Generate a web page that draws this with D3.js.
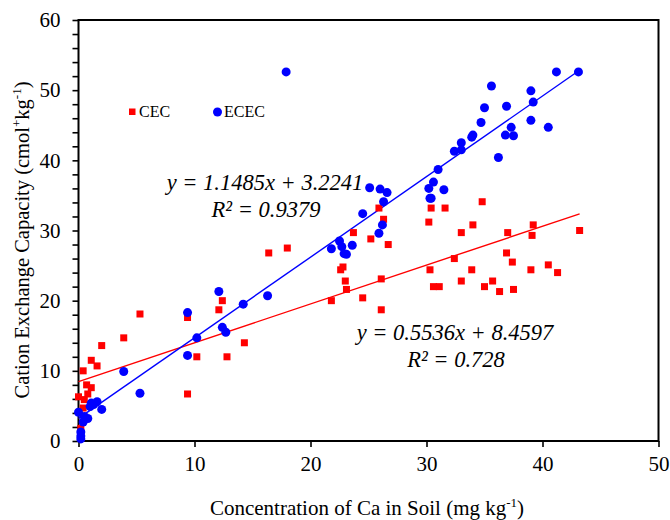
<!DOCTYPE html>
<html>
<head>
<meta charset="utf-8">
<script src="https://cdn.jsdelivr.net/npm/d3@7"></script>
<style>
  body { margin: 0; background: #fff; }
</style>
</head>
<body>
<svg id="chart" width="670" height="520"></svg>
<script>
'use strict';

// Ca concentration (mg kg-1) vs CEC
var cecX = [0.0, 0.2, 0.4, 0.4, 0.5, 0.7, 0.8, 1.1, 1.1, 1.6, 2.0, 3.9, 5.3, 9.4, 9.4, 10.2, 12.1, 12.4, 12.8, 14.3,
            16.4, 18.0, 21.8, 22.6, 22.8, 23.0, 23.1, 23.7, 24.5, 25.2, 25.9, 26.1, 26.1, 26.3, 26.7, 30.2, 30.3, 30.4,
            30.6, 31.1, 31.6, 32.4, 33.0, 33.0, 33.9, 34.0, 34.8, 35.0, 35.7, 36.3, 36.9, 37.0, 37.4, 37.5, 39.0,
            39.1, 39.2, 40.5, 41.3, 43.2];
var cecY = [6.3, 1.8, 4.7, 10.0, 5.9, 8.0, 6.7, 7.6, 11.5, 10.7, 13.6, 14.7, 18.1, 17.6, 6.7, 12.0, 18.7, 20.0, 12.0, 14.0,
            26.8, 27.5, 20.0, 24.4, 24.8, 22.8, 21.6, 29.7, 20.4, 28.8, 33.2, 23.1, 18.7, 31.6, 28.0, 31.2, 24.4, 33.2,
            22.0, 22.0, 33.2, 26.0, 29.7, 22.8, 24.4, 30.8, 34.1, 22.0, 22.8, 21.3, 26.8, 29.7, 25.5, 21.6, 24.4,
            29.3, 30.8, 25.1, 24.0, 30.0];

// Ca concentration vs ECEC
var ececX = [0.0, 0.2, 0.2, 0.2, 0.4, 0.5, 0.8, 1.0, 1.1, 1.3, 1.6, 2.0, 3.9, 5.3, 9.4, 9.4, 10.2, 12.1, 12.4, 12.7,
             14.2, 16.3, 17.9, 21.8, 22.5, 22.7, 22.9, 23.1, 23.6, 24.5, 25.1, 25.9, 26.0, 26.2, 26.3, 26.6, 30.2,
             30.3, 30.4, 30.6, 31.0, 31.5, 32.4, 33.0, 33.0, 33.9, 34.0, 34.7, 35.0, 35.6, 36.2, 36.8, 36.9, 37.3,
             37.5, 39.0, 39.0, 39.2, 40.5, 41.2, 43.1];
var ececY = [4.1, 0.3, 0.7, 1.3, 2.7, 3.5, 3.2, 4.9, 5.4, 5.2, 5.6, 4.5, 9.9, 6.8, 18.3, 12.2, 14.7, 21.3, 16.2, 15.5,
             19.5, 20.7, 52.6, 27.4, 28.5, 27.7, 26.7, 26.6, 27.9, 32.4, 36.1, 29.6, 35.9, 30.8, 34.1, 35.4, 36.0,
             34.6, 34.6, 36.9, 38.7, 35.8, 41.3, 41.5, 42.5, 43.3, 43.6, 45.4, 47.5, 50.6, 40.4, 43.6, 47.7, 44.7,
             43.5, 45.7, 49.9, 48.3, 44.7, 52.6, 52.6];

// linear fits shown on the chart
var cecFit  = {slope: 0.5536, icept: 8.4597, r2: "0.728"};
var ececFit = {slope: 1.1485, icept: 3.2241, r2: "0.9379"};

var xTicks = [0, 10, 20, 30, 40, 50];
var yTicks = [0, 10, 20, 30, 40, 50, 60];

var FONT = "'Liberation Serif', 'Times New Roman', 'DejaVu Serif', serif";

var margin = {top: 20, right: 11.5, bottom: 79, left: 78.5},
    W = 670, H = 520,
    width  = W - margin.left - margin.right,
    height = H - margin.top - margin.bottom;

var svg = d3.select("#chart").attr("font-family", FONT).style("font-family", FONT);
var g = svg.append("g").attr("transform", "translate(" + margin.left + "," + margin.top + ")");

var x = d3.scaleLinear().domain([0, 50]).range([0, width]);
var y = d3.scaleLinear().domain([0, 60]).range([height, 0]);

// axes (minor y ticks every 2, labels only at the tens)
var xAxis = d3.axisBottom(x).tickValues(xTicks).tickSize(6).tickPadding(9).tickFormat(d3.format("d"));
var yAxis = d3.axisLeft(y).tickValues(d3.range(0, 61, 2)).tickSize(6).tickPadding(12)
    .tickFormat(function(d){ return yTicks.indexOf(d) >= 0 ? d : ""; });

var gx = g.append("g").attr("transform", "translate(0," + height + ")").call(xAxis);
var gy = g.append("g").call(yAxis);
[gx, gy].forEach(function(a){
    a.attr("font-family", FONT);
    a.select(".domain").remove();
    a.selectAll(".tick line").attr("stroke", "#000").attr("stroke-width", 1.6);
    a.selectAll(".tick text").attr("font-family", FONT).style("font-size", "21px").attr("fill", "#000");
});

// frame
g.append("rect")
    .attr("width", width).attr("height", height)
    .attr("fill", "none").attr("stroke", "#000").attr("stroke-width", 2);

// trend lines
function fitLine(fit, xmax) {
    return [[0, fit.icept], [xmax, fit.slope * xmax + fit.icept]];
}
var line = d3.line().x(function(d){ return x(d[0]); }).y(function(d){ return y(d[1]); });

g.append("path").datum(fitLine(cecFit, d3.max(cecX)))
    .attr("d", line).attr("fill", "none").attr("stroke", "#ff0000").attr("stroke-width", 1.4);
g.append("path").datum(fitLine(ececFit, d3.max(ececX)))
    .attr("d", line).attr("fill", "none").attr("stroke", "#0000ff").attr("stroke-width", 1.4);

// points
var sq = 7;
g.selectAll("rect.cec").data(cecX).enter().append("rect")
    .attr("class", "cec")
    .attr("x", function(d){ return x(d) - sq / 2; })
    .attr("y", function(d, i){ return y(cecY[i]) - sq / 2; })
    .attr("width", sq).attr("height", sq)
    .attr("fill", "#ff0000");

g.selectAll("circle.ecec").data(ececX).enter().append("circle")
    .attr("class", "ecec")
    .attr("cx", function(d){ return x(d); })
    .attr("cy", function(d, i){ return y(ececY[i]); })
    .attr("r", 4.5)
    .attr("fill", "#0000ff");

// legend
svg.append("rect").attr("x", 129).attr("y", 108.5).attr("width", 6.5).attr("height", 6.5).attr("fill", "#ff0000");
svg.append("text").attr("x", 139).attr("y", 117).style("font-size", "16px").text("CEC");
svg.append("circle").attr("cx", 217.5).attr("cy", 112).attr("r", 4.5).attr("fill", "#0000ff");
svg.append("text").attr("x", 224).attr("y", 117).style("font-size", "16px").text("ECEC");

// equations
function equation(fit, cx, cy) {
    var t = svg.append("text").attr("text-anchor", "middle").style("font-size", "22.5px").style("font-style", "italic");
    t.append("tspan").attr("x", cx).attr("y", cy)
        .text("y = " + fit.slope.toFixed(4) + "x + " + fit.icept.toFixed(4));
    t.append("tspan").attr("x", cx + 1).attr("y", cy + 27).text("R² = " + fit.r2);
}
equation(ececFit, 265, 190);
equation(cecFit, 455, 340);

// axis titles
var xt = svg.append("text").attr("x", 367).attr("y", 515).attr("text-anchor", "middle").style("font-size", "21px");
xt.append("tspan").text("Concentration of Ca in Soil (mg kg");
xt.append("tspan").attr("dy", -8).style("font-size", "13px").text("-1");
xt.append("tspan").attr("dy", 8).text(")");

var yt = svg.append("text").attr("transform", "translate(29,240) rotate(-90)")
    .attr("text-anchor", "middle").style("font-size", "20.5px");
yt.append("tspan").text("Cation Exchange Capacity (cmol");
yt.append("tspan").attr("dy", -8).style("font-size", "13px").text("+");
yt.append("tspan").attr("dy", 8).text("kg");
yt.append("tspan").attr("dy", -8).style("font-size", "13px").text("-1");
yt.append("tspan").attr("dy", 8).text(")");
</script>
</body>
</html>
